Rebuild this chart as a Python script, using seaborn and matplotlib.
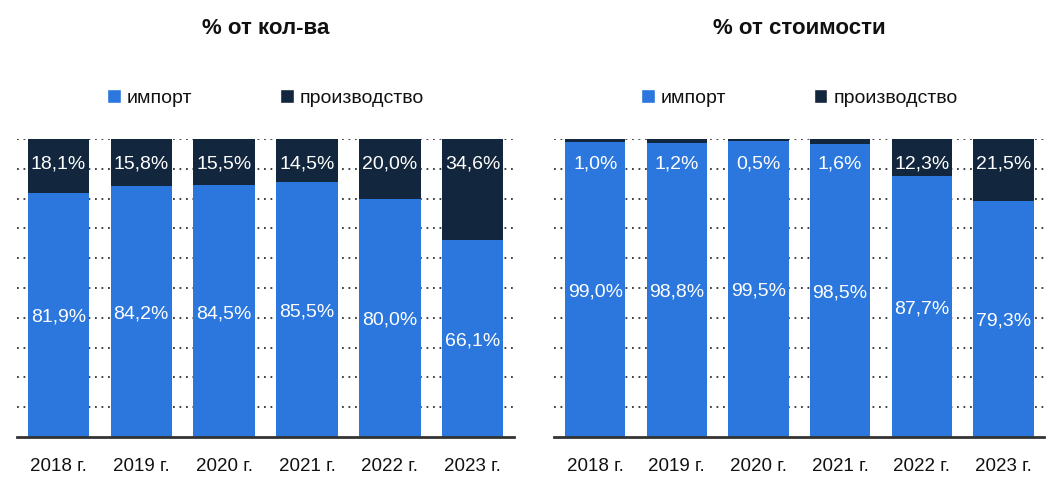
import numpy as np
import pandas as pd
import seaborn as sns
import matplotlib.pyplot as plt
from matplotlib.patches import Patch

years = ['2018 г.', '2019 г.', '2020 г.', '2021 г.', '2022 г.', '2023 г.']

qty_import = [81.9, 84.2, 84.5, 85.5, 80.0, 66.1]
qty_prod = [18.1, 15.8, 15.5, 14.5, 20.0, 34.6]

cost_import = [99.0, 98.8, 99.5, 98.5, 87.7, 79.3]
cost_prod = [1.0, 1.2, 0.5, 1.6, 12.3, 21.5]

BLUE = '#2B77DD'
NAVY = '#12263D'

sns.set_style('white')
plt.rcParams['font.family'] = ['Liberation Sans', 'DejaVu Sans']

fig = plt.figure(figsize=(10.58, 5.04), dpi=100)
ax1 = fig.add_axes([0.016, 0.133, 0.470, 0.591])
ax2 = fig.add_axes([0.524, 0.133, 0.463, 0.591])


def stacked(ax, imp, prod, title):
    df = pd.DataFrame({'year': years, 'imp': imp, 'prod': prod})
    df['total'] = df['imp'] + df['prod']
    sns.barplot(data=df, x='year', y='total', color=NAVY, width=0.74,
                saturation=1, linewidth=0, ax=ax, zorder=2)
    sns.barplot(data=df, x='year', y='imp', color=BLUE, width=0.74,
                saturation=1, linewidth=0, ax=ax, zorder=3)
    ax.set_ylim(0, 100)
    ax.set_xlim(-0.5, len(years) - 0.5)
    ax.set_yticks(np.arange(10, 101, 10))
    ax.yaxis.grid(True, linestyle=(0, (1, 2.6)), linewidth=1.3, color='#333333', zorder=0)
    ax.set_axisbelow(True)
    ax.tick_params(axis='y', left=False, labelleft=False)
    ax.tick_params(axis='x', bottom=False, pad=12, labelsize=13.5, labelcolor='#111111')
    for s in ['top', 'right', 'left']:
        ax.spines[s].set_visible(False)
    ax.spines['bottom'].set_color('#333333')
    ax.spines['bottom'].set_linewidth(2)
    ax.spines['bottom'].set_zorder(5)
    ax.set_xlabel('')
    ax.set_ylabel('')
    for i, (a, b) in enumerate(zip(imp, prod)):
        ax.text(i, a / 2 - 0.8, f'{a:.1f}%'.replace('.', ','), ha='center', va='center',
                color='white', fontsize=14, zorder=6)
        ax.text(i, 91.7, f'{b:.1f}%'.replace('.', ','), ha='center', va='center',
                color='white', fontsize=14, zorder=6)
    ax.text(0.5, 1.0 + 111 / 298, title, transform=ax.transAxes, ha='center', va='center',
            fontsize=16, fontweight='bold', color='#111111')
    handles = [Patch(facecolor=BLUE, label='импорт'), Patch(facecolor=NAVY, label='производство')]
    leg = ax.legend(handles=handles, loc='center', bbox_to_anchor=(0.5, 1.0 + 41 / 298), ncol=2,
                    frameon=False, fontsize=14, handlelength=0.7, handleheight=0.7,
                    handletextpad=0.3, columnspacing=4.5, borderpad=0)
    for t in leg.get_texts():
        t.set_color('#111111')


stacked(ax1, qty_import, qty_prod, '% от кол-ва')
stacked(ax2, cost_import, cost_prod, '% от стоимости')

fig.savefig('out.png', dpi=100)
